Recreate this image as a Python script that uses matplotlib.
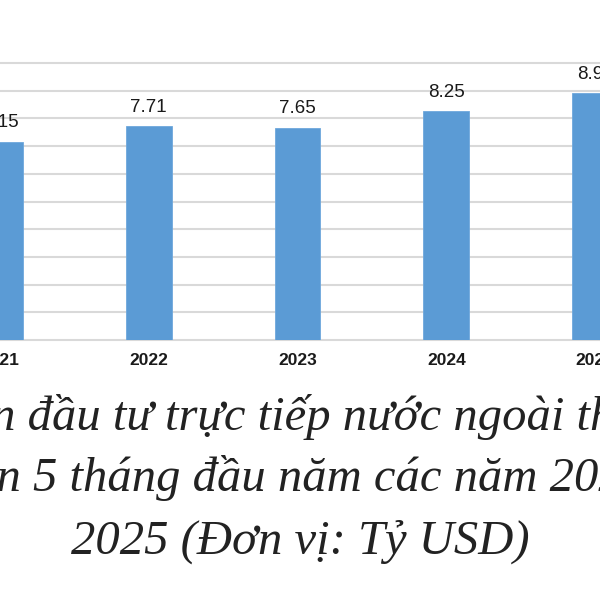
import matplotlib
matplotlib.use('Agg')
import matplotlib.pyplot as plt

# --- Data ------------------------------------------------------------------------------------------
years = ["2021", "2022", "2023", "2024", "2025"]
fdi_values = [7.15, 7.71, 7.65, 8.25, 8.90]  # Tỷ USD
title_lines = [
    "Vốn đầu tư trực tiếp nước ngoài thực",
    "hiện 5 tháng đầu năm các năm 2021-",
    "2025 (Đơn vị: Tỷ USD)",
]
y_ticks = list(range(0, 11))

# --- Figure ----------------------------------------------------------------------------------------
fig = plt.figure(figsize=(6, 6), dpi=100)
fig.patch.set_facecolor("white")

# Chart is cropped on both sides in the reference, so the axes run edge to edge
ax = fig.add_axes([0.0, 260 / 600, 1.0, 277 / 600])
x = list(range(len(years)))
ax.bar(x, fdi_values, width=0.307, color="#5b9bd5", edgecolor="#6fa8dc", linewidth=0.6, zorder=3)

for xi, v in zip(x, fdi_values):
    ax.annotate(f"{v:.2f}", (xi, v), xytext=(0, 10.6), textcoords="offset points",
                ha="center", va="baseline", fontsize=13.5, family="Liberation Sans",
                color="#1a1a1a", annotation_clip=False)

ax.set_xlim(5 / 150, 4 + 5 / 150)
ax.set_ylim(0, 10)
ax.set_yticks(y_ticks)
ax.yaxis.grid(True, color="#d9d9d9", linewidth=1.5, zorder=0)
for gl in ax.get_ygridlines():
    gl.set_clip_on(False)
ax.tick_params(axis="y", left=False, labelleft=False)
ax.set_xticks(x)
ax.set_xticklabels(years, fontsize=12.5, fontweight="bold", family="Liberation Sans", color="#1a1a1a")
ax.tick_params(axis="x", length=0, pad=9.5)
for s in ax.spines.values():
    s.set_visible(False)

# --- Caption (italic serif, three centred lines) ---------------------------------------------------
baselines = [430, 491, 554]
for line, yb in zip(title_lines, baselines):
    fig.text(0.5, 1 - yb / 600, line, ha="center", va="baseline", fontsize=35,
             family="Liberation Serif", style="italic", color="#222222")

fig.savefig("out.png", dpi=100)
